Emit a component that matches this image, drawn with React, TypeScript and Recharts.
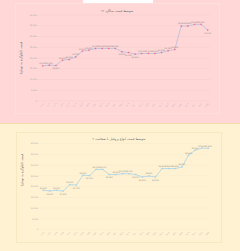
import React from 'react';
import { LineChart, Line, XAxis, YAxis, CartesianGrid, LabelList } from 'recharts';

const dateLabels = [
  '۰۱/۰۵', '۰۱/۱۲', '۰۱/۱۹', '۰۱/۲۶', '۰۲/۰۲', '۰۲/۰۹', '۰۲/۱۶', '۰۲/۲۳', '۰۲/۳۰',
  '۰۳/۰۶', '۰۳/۱۳', '۰۳/۲۰', '۰۳/۲۷', '۰۴/۰۳', '۰۴/۱۰', '۰۴/۱۷', '۰۴/۲۴', '۰۴/۳۱',
  '۰۵/۰۷', '۰۵/۱۴', '۰۵/۲۱', '۰۵/۲۸', '۰۶/۰۴', '۰۶/۱۱', '۰۶/۱۸', '۰۶/۲۵',
];

const rebarPrices = [
  16350, 16650, 16500, 19000, 19300, 20550, 23200, 23650, 24450, 24450, 24450, 24450, 22900,
  22550, 21800, 22100, 22100, 22100, 22550, 23350, 23950, 34850, 34850, 35650, 35650, 33000,
];

const profilePrices = [
  18300, 18000, 18300, 17900, 20900, 20700, 25300, 25100, 28000, 28000, 25600, 25600, 26000,
  26000, 25600, 24500, 24900, 24500, 28400, 28400, 28400, 29100, 34600, 36900, 37900, 37900,
];

const yTicks = [0, 5000, 10000, 15000, 20000, 25000, 30000, 35000, 40000];

const topTitle = 'متوسط قیمت میلگرد ۱۲';
const bottomTitle = 'متوسط قیمت انواع پروفیل با ضخامت ۲';
const yLabel = 'قیمت (کیلوگرم به تومان)';

const FONT = '"DejaVu Sans", sans-serif';

const fmt = (v: number) => v.toLocaleString('en-US');

const makeData = (vals: number[]) => dateLabels.map((d, i) => ({ d, v: vals[i] }));

const PointLabel = (props: any) => {
  const { x, y, value, index, vals } = props;
  const below = index > 0 && vals[index] < vals[index - 1];
  return (
    <text x={x} y={below ? y + 3.6 : y - 1.6} fontSize={2} fill="#8a8a8a" textAnchor="middle" fontFamily={FONT}>
      {fmt(value)}
    </text>
  );
};

const Chart = ({ vals, lineColor, dotColor, grid, marginTop, height, left, padL, padR }: any) => (
  <LineChart
    width={240}
    height={height}
    data={makeData(vals)}
    margin={{ top: marginTop, right: 30, bottom: height - marginTop - 86 - 8, left: left }}
  >
    <CartesianGrid horizontal vertical={false} stroke={grid} strokeWidth={0.6} />
    <XAxis
      dataKey="d"
      interval={0}
      height={8}
      padding={{ left: padL, right: padR }}
      axisLine={false}
      tickLine={false}
      tickSize={0}
      tickMargin={2}
      angle={-45}
      textAnchor="end"
      tick={{ fontSize: 2.1, fill: '#a8a8a8', fontFamily: FONT }}
    />
    <YAxis
      width={10}
      domain={[0, 40000]}
      ticks={yTicks}
      interval={0}
      axisLine={false}
      tickLine={false}
      tickSize={0}
      tickMargin={1}
      tickFormatter={fmt}
      tick={{ fontSize: 2.1, fill: '#a8a8a8', fontFamily: FONT }}
    />
    <Line
      type="linear"
      dataKey="v"
      stroke={lineColor}
      strokeWidth={0.8}
      dot={{ r: 0.7, fill: dotColor, stroke: dotColor, strokeWidth: 0.2 }}
      isAnimationActive={false}
    >
      <LabelList dataKey="v" content={(p: any) => <PointLabel {...p} vals={vals} />} />
    </Line>
  </LineChart>
);

export default function App() {
  return (
    <div style={{ position: 'absolute', left: 0, top: 0, width: 240, height: 251, overflow: 'hidden', background: '#fff2d2' }}>
      <div style={{ position: 'absolute', left: 0, top: 0, width: 240, height: 123, background: '#ffd7d7' }}>
        <div style={{ position: 'absolute', left: 15, top: 3, width: 205, height: 111, border: '1px solid rgba(255,255,255,0.18)', boxSizing: 'border-box' }} />
        <div style={{ position: 'absolute', left: 83, top: 0, width: 70, height: 2.5, background: '#ffffff' }} />
        <div style={{ position: 'absolute', left: 0, top: 0 }}>
          <Chart vals={rebarPrices} lineColor="#b4bde6" dotColor="#e8737b" grid="rgba(0,0,0,0.045)" marginTop={15} height={123} left={28} padL={4.7} padR={2.3} />
        </div>
        <svg width={240} height={123} style={{ position: 'absolute', left: 0, top: 0 }}>
          <text x={117} y={11.6} fontSize={3.2} fill="#666" textAnchor="middle" fontFamily={FONT}>{topTitle}</text>
          <text x={0} y={0} fontSize={3.1} fill="#666" textAnchor="middle" fontFamily={FONT} transform="translate(21.8 58) rotate(-90)">{yLabel}</text>
        </svg>
      </div>
      <div style={{ position: 'absolute', left: 0, top: 122.5, width: 240, height: 1.2, background: '#f1dcaa' }} />
      <div style={{ position: 'absolute', left: 0, top: 123.7, width: 240, height: 128 }}>
        <div style={{ position: 'absolute', left: 16, top: 8.3, width: 206, height: 111, border: '1px solid rgba(240,220,170,0.45)', boxSizing: 'border-box' }} />
        <div style={{ position: 'absolute', left: 0, top: 0 }}>
          <Chart vals={profilePrices} lineColor="#a9d2e8" dotColor="#a9d2e8" grid="rgba(0,0,0,0.04)" marginTop={19.6} height={128} left={29} padL={4.3} padR={1.7} />
        </div>
        <svg width={240} height={128} style={{ position: 'absolute', left: 0, top: 0 }}>
          <text x={119} y={15.6} fontSize={3.2} fill="#666" textAnchor="middle" fontFamily={FONT}>{bottomTitle}</text>
          <text x={0} y={0} fontSize={3.1} fill="#666" textAnchor="middle" fontFamily={FONT} transform="translate(23 46) rotate(-90)">{yLabel}</text>
        </svg>
      </div>
    </div>
  );
}
